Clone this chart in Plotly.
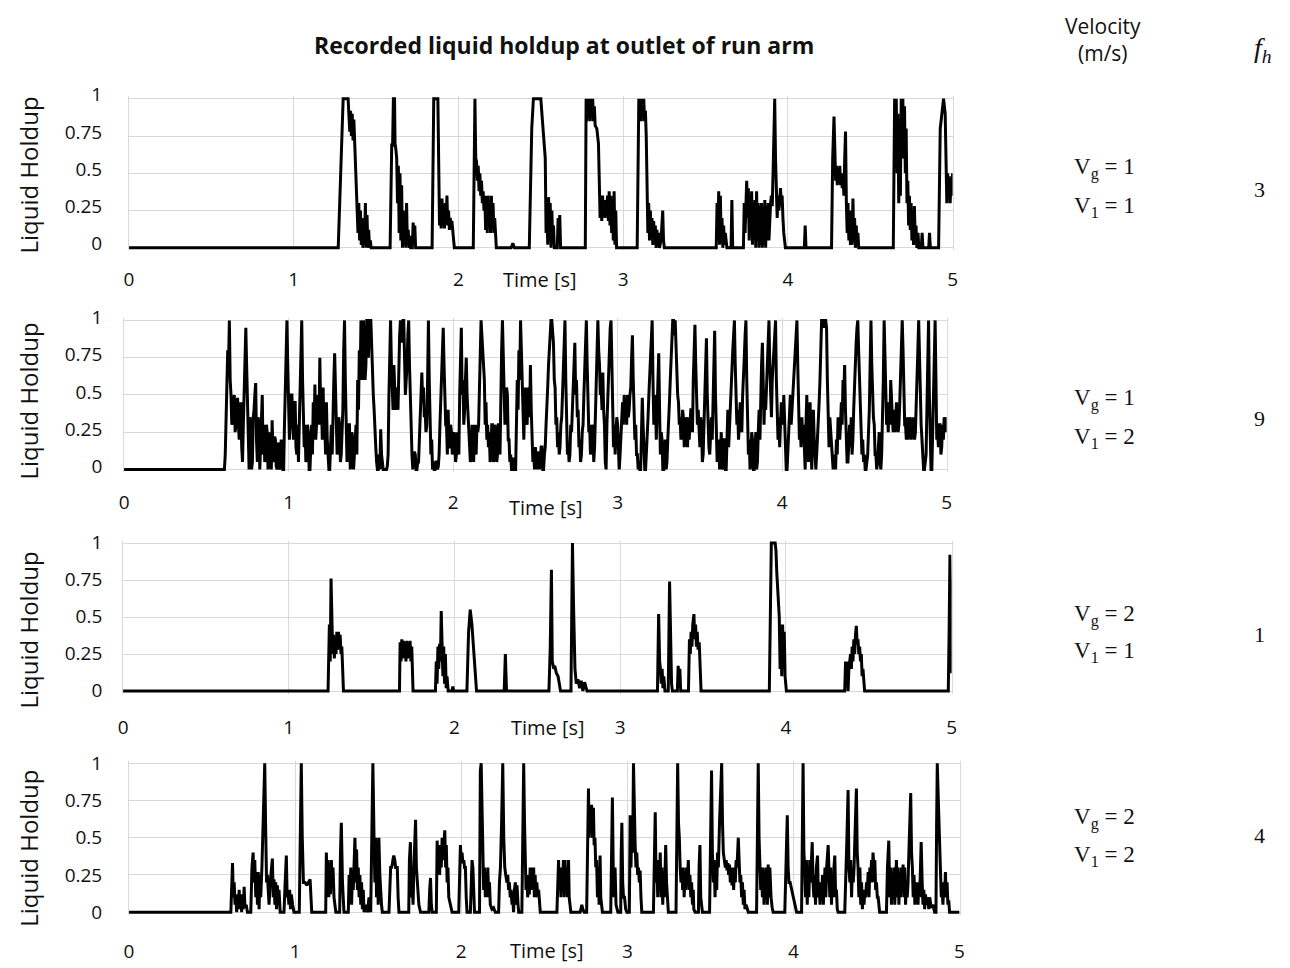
import plotly.graph_objects as go

W, H = 1290, 968

# ---------------- data ----------------
# Panel A: Vg = 1, Vl = 1
time_a = [0.0, 1.27, 1.285, 1.30, 1.33, 1.335, 1.34, 1.345, 1.35, 1.355, 1.36, 1.365, 1.37, 1.38, 1.385,
          1.39, 1.395, 1.40, 1.405, 1.41, 1.415, 1.42, 1.425, 1.43, 1.435, 1.44, 1.445, 1.45, 1.455, 1.46,
          1.465, 1.47,
          1.585, 1.595, 1.60, 1.605, 1.612, 1.615, 1.62, 1.625, 1.63, 1.635, 1.64, 1.645, 1.65, 1.655, 1.66,
          1.665, 1.67, 1.675, 1.68, 1.685, 1.69, 1.695, 1.70, 1.705, 1.71, 1.72, 1.725, 1.73, 1.735, 1.74,
          1.84, 1.845, 1.85, 1.875, 1.88, 1.885, 1.89, 1.895, 1.90, 1.905, 1.91, 1.915, 1.92, 1.925, 1.93,
          1.935, 1.94, 1.945, 1.95, 1.955, 1.96, 1.965, 1.975,
          2.09, 2.095, 2.10, 2.105, 2.11, 2.115, 2.12, 2.125, 2.13, 2.135, 2.14, 2.145, 2.15, 2.155, 2.16,
          2.165, 2.17, 2.175, 2.18, 2.185, 2.19, 2.195, 2.20, 2.205, 2.21, 2.215, 2.22, 2.23,
          2.32, 2.33, 2.34, 2.43,
          2.445, 2.455, 2.50, 2.51, 2.52, 2.527, 2.532, 2.537, 2.542, 2.547, 2.552, 2.557, 2.562, 2.567,
          2.572, 2.577, 2.582, 2.60, 2.605, 2.61, 2.615, 2.62,
          2.77, 2.775, 2.78, 2.785, 2.79, 2.795, 2.80, 2.805, 2.81, 2.815, 2.82, 2.825, 2.83, 2.84, 2.85,
          2.855, 2.86, 2.865, 2.87, 2.875, 2.88, 2.885, 2.89, 2.895, 2.90, 2.905, 2.91, 2.915, 2.92, 2.925,
          2.93, 2.935, 2.94, 2.945, 2.95, 2.955, 2.96,
          3.085, 3.09, 3.095, 3.10, 3.105, 3.11, 3.115, 3.12, 3.125, 3.13, 3.135, 3.14, 3.145, 3.15, 3.155,
          3.16, 3.165, 3.17, 3.175, 3.18, 3.185, 3.19, 3.195, 3.20, 3.205, 3.21, 3.215, 3.22, 3.23, 3.24,
          3.245, 3.25,
          3.565, 3.57, 3.575, 3.58, 3.585, 3.59, 3.595, 3.60, 3.605, 3.61, 3.615, 3.62, 3.63, 3.655, 3.66,
          3.665, 3.73,
          3.735, 3.74, 3.745, 3.75, 3.755, 3.76, 3.765, 3.77, 3.775, 3.78, 3.785, 3.79, 3.795, 3.80, 3.805,
          3.81, 3.815, 3.82, 3.825, 3.83, 3.835, 3.84, 3.845, 3.85, 3.855, 3.86, 3.865, 3.87, 3.875, 3.88,
          3.885, 3.89, 3.895, 3.90, 3.905, 3.91, 3.915, 3.92, 3.925, 3.93, 3.935, 3.94, 3.945, 3.95, 3.955,
          3.96, 3.965, 3.97, 3.975, 3.985,
          4.10, 4.105, 4.11, 4.265,
          4.272, 4.28, 4.285, 4.29, 4.295, 4.30, 4.305, 4.31, 4.315, 4.32, 4.325, 4.33, 4.335, 4.34, 4.345,
          4.35, 4.355, 4.36, 4.365, 4.37, 4.375, 4.38, 4.385, 4.39, 4.395, 4.40, 4.405, 4.41, 4.415, 4.42,
          4.425, 4.43,
          4.64, 4.643, 4.648, 4.653, 4.658, 4.663, 4.668, 4.673, 4.678, 4.683, 4.688, 4.693, 4.698, 4.703,
          4.708, 4.713, 4.718, 4.723, 4.728, 4.733, 4.738, 4.743, 4.748, 4.753, 4.758, 4.763, 4.768, 4.773,
          4.778, 4.783, 4.79, 4.795, 4.81, 4.815, 4.82, 4.855, 4.86, 4.865, 4.87,
          4.915, 4.925, 4.935, 4.945, 4.955, 4.96, 4.965, 4.97, 4.975, 4.98, 4.985, 4.99, 4.995, 5.0]
holdup_a = [0, 0, 0.5, 1.0, 1.0, 0.9, 0.78, 0.92, 0.75, 0.9, 0.72, 0.86, 0.7, 0.5, 0.32,
            0.1, 0.3, 0.05, 0.25, 0.02, 0.2, 0.0, 0.15, 0.02, 0.3, 0.0, 0.22, 0.0, 0.12, 0.0,
            0.05, 0,
            0, 0.7, 0.68, 1.0, 1.0, 0.7, 0.66, 0.6, 0.3, 0.55, 0.1, 0.5, 0.05, 0.42, 0.0,
            0.25, 0.02, 0.2, 0.0, 0.3, 0.02, 0.12, 0.0, 0.08, 0.0, 0.0, 0.17, 0.05, 0.15, 0.0,
            0, 0.7, 1.0, 1.0, 0.35, 0.15, 0.3, 0.13, 0.33, 0.15, 0.28, 0.13, 0.3, 0.18, 0.35,
            0.15, 0.25, 0.12, 0.2, 0.15, 0.18, 0.1, 0.0,
            0, 0.5, 1.0, 0.6, 0.58, 0.45, 0.55, 0.38, 0.5, 0.35, 0.45, 0.3, 0.38, 0.25, 0.35,
            0.12, 0.35, 0.1, 0.35, 0.15, 0.32, 0.1, 0.35, 0.12, 0.3, 0.1, 0.2, 0.0,
            0, 0.03, 0, 0,
            0.8, 1.0, 1.0, 0.85, 0.7, 0.6, 0.1, 0.3, 0.02, 0.34, 0.05, 0.3, 0.0, 0.25,
            0.05, 0.15, 0.0, 0.0, 0.2, 0.05, 0.22, 0.0,
            0, 1.0, 0.85, 1.0, 0.88, 1.0, 0.85, 1.0, 0.9, 1.0, 0.85, 0.95, 0.82, 0.8, 0.7,
            0.3, 0.2, 0.33, 0.18, 0.35, 0.22, 0.3, 0.2, 0.32, 0.22, 0.35, 0.18, 0.38, 0.15, 0.35,
            0.1, 0.3, 0.05, 0.38, 0.02, 0.25, 0.0,
            0, 0.9, 1.0, 0.88, 1.0, 0.85, 1.0, 0.9, 1.0, 0.85, 0.92, 0.75, 0.35, 0.1, 0.3,
            0.05, 0.25, 0.08, 0.2, 0.02, 0.18, 0.05, 0.15, 0.0, 0.12, 0.02, 0.1, 0.0, 0.05, 0.25,
            0.05, 0.0,
            0, 0.3, 0.05, 0.38, 0.02, 0.35, 0.05, 0.2, 0.0, 0.15, 0.02, 0.1, 0.0, 0.0, 0.32,
            0.0, 0.0,
            0.3, 0.1, 0.4, 0.45, 0.2, 0.4, 0.05, 0.35, 0.1, 0.38, 0.02, 0.3, 0.05, 0.32, 0.0,
            0.38, 0.05, 0.3, 0.0, 0.28, 0.02, 0.3, 0.0, 0.28, 0.02, 0.32, 0.0, 0.28, 0.05, 0.3,
            0.05, 0.2, 0.3, 0.35, 0.28, 0.5, 0.85, 1.0, 0.6, 0.3, 0.2, 0.35, 0.25, 0.3, 0.4,
            0.3, 0.35, 0.2, 0.1, 0.0,
            0, 0.15, 0.0, 0,
            0.6, 0.88, 0.55, 0.45, 0.55, 0.42, 0.52, 0.45, 0.55, 0.42, 0.5, 0.4, 0.48, 0.35, 0.6,
            0.78, 0.3, 0.1, 0.3, 0.05, 0.25, 0.02, 0.15, 0.02, 0.33, 0.05, 0.2, 0.0, 0.15, 0.02,
            0.1, 0.0,
            0, 0.8, 1.0, 0.6, 1.0, 0.5, 0.9, 0.3, 0.6, 0.35, 1.0, 0.7, 1.0, 0.6,
            0.95, 0.5, 0.8, 0.3, 0.45, 0.15, 0.35, 0.12, 0.3, 0.05, 0.2, 0.02, 0.28, 0.05,
            0.15, 0.0, 0.1, 0.0, 0.0, 0.1, 0.0, 0.0, 0.1, 0.0, 0.0,
            0, 0.8, 0.9, 1.0, 0.9, 0.45, 0.3, 0.5, 0.35, 0.48, 0.3, 0.45, 0.35, 0.5]

# Panel B: Vg = 1, Vl = 2  (one reading every 5 ms once the first slug arrives)
time_b = [0.0,
          0.600, 0.605, 0.610, 0.615, 0.620, 0.625, 0.630, 0.635, 0.640, 0.645,
          0.650, 0.655, 0.660, 0.665, 0.670, 0.675, 0.680, 0.685, 0.690, 0.695,
          0.700, 0.705, 0.710, 0.715, 0.720, 0.725, 0.730, 0.735, 0.740, 0.745,
          0.750, 0.755, 0.760, 0.765, 0.770, 0.775, 0.780, 0.785, 0.790, 0.795,
          0.800, 0.805, 0.810, 0.815, 0.820, 0.825, 0.830, 0.835, 0.840, 0.845,
          0.850, 0.855, 0.860, 0.865, 0.870, 0.875, 0.880, 0.885, 0.890, 0.895,
          0.900, 0.905, 0.910, 0.915, 0.920, 0.925, 0.930, 0.935, 0.940, 0.945,
          0.950, 0.955, 0.960, 0.965, 0.970, 0.975, 0.980, 0.985, 0.990, 0.995,
          1.000, 1.005, 1.010, 1.015, 1.020, 1.025, 1.030, 1.035, 1.040, 1.045,
          1.050, 1.055, 1.060, 1.065, 1.070, 1.075, 1.080, 1.085, 1.090, 1.095,
          1.100, 1.105, 1.110, 1.115, 1.120, 1.125, 1.130, 1.135, 1.140, 1.145,
          1.150, 1.155, 1.160, 1.165, 1.170, 1.175, 1.180, 1.185, 1.190, 1.195,
          1.200, 1.205, 1.210, 1.215, 1.220, 1.225, 1.230, 1.235, 1.240, 1.245,
          1.250, 1.255, 1.260, 1.265, 1.270, 1.275, 1.280, 1.285, 1.290, 1.295,
          1.300, 1.305, 1.310, 1.315, 1.320, 1.325, 1.330, 1.335, 1.340, 1.345,
          1.350, 1.355, 1.360, 1.365, 1.370, 1.375, 1.380, 1.385, 1.390, 1.395,
          1.400, 1.405, 1.410, 1.415, 1.420, 1.425, 1.430, 1.435, 1.440, 1.445,
          1.450, 1.455, 1.460, 1.465, 1.470, 1.475, 1.480, 1.485, 1.490, 1.495,
          1.500, 1.505, 1.510, 1.515, 1.520, 1.525, 1.530, 1.535, 1.540, 1.545,
          1.550, 1.555, 1.560, 1.565, 1.570, 1.575, 1.580, 1.585, 1.590, 1.595,
          1.600, 1.605, 1.610, 1.615, 1.620, 1.625, 1.630, 1.635, 1.640, 1.645,
          1.650, 1.655, 1.660, 1.665, 1.670, 1.675, 1.680, 1.685, 1.690, 1.695,
          1.700, 1.705, 1.710, 1.715, 1.720, 1.725, 1.730, 1.735, 1.740, 1.745,
          1.750, 1.755, 1.760, 1.765, 1.770, 1.775, 1.780, 1.785, 1.790, 1.795,
          1.800, 1.805, 1.810, 1.815, 1.820, 1.825, 1.830, 1.835, 1.840, 1.845,
          1.850, 1.855, 1.860, 1.865, 1.870, 1.875, 1.880, 1.885, 1.890, 1.895,
          1.900, 1.905, 1.910, 1.915, 1.920, 1.925, 1.930, 1.935, 1.940, 1.945,
          1.950, 1.955, 1.960, 1.965, 1.970, 1.975, 1.980, 1.985, 1.990, 1.995,
          2.000, 2.005, 2.010, 2.015, 2.020, 2.025, 2.030, 2.035, 2.040, 2.045,
          2.050, 2.055, 2.060, 2.065, 2.070, 2.075, 2.080, 2.085, 2.090, 2.095,
          2.100, 2.105, 2.110, 2.115, 2.120, 2.125, 2.130, 2.135, 2.140, 2.145,
          2.150, 2.155, 2.160, 2.165, 2.170, 2.175, 2.180, 2.185, 2.190, 2.195,
          2.200, 2.205, 2.210, 2.215, 2.220, 2.225, 2.230, 2.235, 2.240, 2.245,
          2.250, 2.255, 2.260, 2.265, 2.270, 2.275, 2.280, 2.285, 2.290, 2.295,
          2.300, 2.305, 2.310, 2.315, 2.320, 2.325, 2.330, 2.335, 2.340, 2.345,
          2.350, 2.355, 2.360, 2.365, 2.370, 2.375, 2.380, 2.385, 2.390, 2.395,
          2.400, 2.405, 2.410, 2.415, 2.420, 2.425, 2.430, 2.435, 2.440, 2.445,
          2.450, 2.455, 2.460, 2.465, 2.470, 2.475, 2.480, 2.485, 2.490, 2.495,
          2.500, 2.505, 2.510, 2.515, 2.520, 2.525, 2.530, 2.535, 2.540, 2.545,
          2.550, 2.555, 2.560, 2.565, 2.570, 2.575, 2.580, 2.585, 2.590, 2.595,
          2.600, 2.605, 2.610, 2.615, 2.620, 2.625, 2.630, 2.635, 2.640, 2.645,
          2.650, 2.655, 2.660, 2.665, 2.670, 2.675, 2.680, 2.685, 2.690, 2.695,
          2.700, 2.705, 2.710, 2.715, 2.720, 2.725, 2.730, 2.735, 2.740, 2.745,
          2.750, 2.755, 2.760, 2.765, 2.770, 2.775, 2.780, 2.785, 2.790, 2.795,
          2.800, 2.805, 2.810, 2.815, 2.820, 2.825, 2.830, 2.835, 2.840, 2.845,
          2.850, 2.855, 2.860, 2.865, 2.870, 2.875, 2.880, 2.885, 2.890, 2.895,
          2.900, 2.905, 2.910, 2.915, 2.920, 2.925, 2.930, 2.935, 2.940, 2.945,
          2.950, 2.955, 2.960, 2.965, 2.970, 2.975, 2.980, 2.985, 2.990, 2.995,
          3.000, 3.005, 3.010, 3.015, 3.020, 3.025, 3.030, 3.035, 3.040, 3.045,
          3.050, 3.055, 3.060, 3.065, 3.070, 3.075, 3.080, 3.085, 3.090, 3.095,
          3.100, 3.105, 3.110, 3.115, 3.120, 3.125, 3.130, 3.135, 3.140, 3.145,
          3.150, 3.155, 3.160, 3.165, 3.170, 3.175, 3.180, 3.185, 3.190, 3.195,
          3.200, 3.205, 3.210, 3.215, 3.220, 3.225, 3.230, 3.235, 3.240, 3.245,
          3.250, 3.255, 3.260, 3.265, 3.270, 3.275, 3.280, 3.285, 3.290, 3.295,
          3.300, 3.305, 3.310, 3.315, 3.320, 3.325, 3.330, 3.335, 3.340, 3.345,
          3.350, 3.355, 3.360, 3.365, 3.370, 3.375, 3.380, 3.385, 3.390, 3.395,
          3.400, 3.405, 3.410, 3.415, 3.420, 3.425, 3.430, 3.435, 3.440, 3.445,
          3.450, 3.455, 3.460, 3.465, 3.470, 3.475, 3.480, 3.485, 3.490, 3.495,
          3.500, 3.505, 3.510, 3.515, 3.520, 3.525, 3.530, 3.535, 3.540, 3.545,
          3.550, 3.555, 3.560, 3.565, 3.570, 3.575, 3.580, 3.585, 3.590, 3.595,
          3.600, 3.605, 3.610, 3.615, 3.620, 3.625, 3.630, 3.635, 3.640, 3.645,
          3.650, 3.655, 3.660, 3.665, 3.670, 3.675, 3.680, 3.685, 3.690, 3.695,
          3.700, 3.705, 3.710, 3.715, 3.720, 3.725, 3.730, 3.735, 3.740, 3.745,
          3.750, 3.755, 3.760, 3.765, 3.770, 3.775, 3.780, 3.785, 3.790, 3.795,
          3.800, 3.805, 3.810, 3.815, 3.820, 3.825, 3.830, 3.835, 3.840, 3.845,
          3.850, 3.855, 3.860, 3.865, 3.870, 3.875, 3.880, 3.885, 3.890, 3.895,
          3.900, 3.905, 3.910, 3.915, 3.920, 3.925, 3.930, 3.935, 3.940, 3.945,
          3.950, 3.955, 3.960, 3.965, 3.970, 3.975, 3.980, 3.985, 3.990, 3.995,
          4.000, 4.005, 4.010, 4.015, 4.020, 4.025, 4.030, 4.035, 4.040, 4.045,
          4.050, 4.055, 4.060, 4.065, 4.070, 4.075, 4.080, 4.085, 4.090, 4.095,
          4.100, 4.105, 4.110, 4.115, 4.120, 4.125, 4.130, 4.135, 4.140, 4.145,
          4.150, 4.155, 4.160, 4.165, 4.170, 4.175, 4.180, 4.185, 4.190, 4.195,
          4.200, 4.205, 4.210, 4.215, 4.220, 4.225, 4.230, 4.235, 4.240, 4.245,
          4.250, 4.255, 4.260, 4.265, 4.270, 4.275, 4.280, 4.285, 4.290, 4.295,
          4.300, 4.305, 4.310, 4.315, 4.320, 4.325, 4.330, 4.335, 4.340, 4.345,
          4.350, 4.355, 4.360, 4.365, 4.370, 4.375, 4.380, 4.385, 4.390, 4.395,
          4.400, 4.405, 4.410, 4.415, 4.420, 4.425, 4.430, 4.435, 4.440, 4.445,
          4.450, 4.455, 4.460, 4.465, 4.470, 4.475, 4.480, 4.485, 4.490, 4.495,
          4.500, 4.505, 4.510, 4.515, 4.520, 4.525, 4.530, 4.535, 4.540, 4.545,
          4.550, 4.555, 4.560, 4.565, 4.570, 4.575, 4.580, 4.585, 4.590, 4.595,
          4.600, 4.605, 4.610, 4.615, 4.620, 4.625, 4.630, 4.635, 4.640, 4.645,
          4.650, 4.655, 4.660, 4.665, 4.670, 4.675, 4.680, 4.685, 4.690, 4.695,
          4.700, 4.705, 4.710, 4.715, 4.720, 4.725, 4.730, 4.735, 4.740, 4.745,
          4.750, 4.755, 4.760, 4.765, 4.770, 4.775, 4.780, 4.785, 4.790, 4.795,
          4.800, 4.805, 4.810, 4.815, 4.820, 4.825, 4.830, 4.835, 4.840, 4.845,
          4.850, 4.855, 4.860, 4.865, 4.870, 4.875, 4.880, 4.885, 4.890, 4.895,
          4.900, 4.905, 4.910, 4.915, 4.920, 4.925, 4.930, 4.935, 4.940, 4.945,
          4.950, 4.955, 4.960, 4.965, 4.970, 4.975, 4.980, 4.985, 4.990, 4.995,
          5.000]
holdup_b = [0.0,
            0, 0, 0, 0.1, 0.3, 0.55, 0.8, 0.7, 1.0, 0.6,
            0.5, 0.3, 0.35, 0.45, 0.5, 0.25, 0.3, 0.45, 0.48, 0.3,
            0.2, 0.4, 0.45, 0.15, 0.05, 0.3, 0.6, 0.75, 0.95, 0.7,
            0.4, 0.1, 0.0, 0.35, 0.3, 0.0, 0.05, 0.35, 0.4, 0.5,
            0.58, 0.2, 0.05, 0.35, 0.3, 0.0, 0.15, 0.4, 0.5, 0.1,
            0.3, 0.05, 0.1, 0.3, 0.25, 0.0, 0.05, 0.25, 0.2, 0.0,
            0.33, 0.1, 0.05, 0.22, 0.2, 0.02, 0.0, 0.15, 0.18, 0.0,
            0.02, 0.2, 0.15, 0.0, 0.0, 0.3, 0.6, 0.85, 1.0, 0.7,
            0.45, 0.2, 0.3, 0.5, 0.5, 0.25, 0.2, 0.45, 0.45, 0.15,
            0.1, 0.3, 0.05, 0.3, 0.6, 0.85, 1.0, 0.6, 0.4, 0.15,
            0.3, 0.05, 0.1, 0.3, 0.25, 0.0, 0.0, 0.25, 0.3, 0.1,
            0.45, 0.25, 0.57, 0.2, 0.3, 0.45, 0.5, 0.3, 0.75, 0.4,
            0.45, 0.2, 0.55, 0.25, 0.3, 0.1, 0.45, 0.2, 0.1, 0.0,
            0.0, 0.2, 0.3, 0.1, 0.5, 0.6, 0.78, 0.5, 0.35, 0.1,
            0.15, 0.35, 0.3, 0.05, 0.1, 0.3, 0.4, 0.8, 1.0, 0.6,
            0.3, 0.05, 0.15, 0.3, 0.3, 0.0, 0.05, 0.25, 0.2, 0.0,
            0.1, 0.25, 0.3, 0.1, 0.6, 0.4, 0.8, 0.6, 1.0, 0.8,
            0.6, 1.0, 0.85, 0.6, 0.7, 1.0, 1.0, 0.75, 0.95, 1.0,
            1.0, 0.8, 0.7, 0.5, 0.4, 0.2, 0.15, 0.05, 0.0, 0.0,
            0.1, 0.0, 0.27, 0.1, 0.05, 0.0, 0.0, 0.0, 0.0, 0.0,
            0.02, 0.1, 0.5, 0.8, 1.0, 0.7, 0.5, 0.4, 0.7, 0.45,
            0.4, 0.55, 0.5, 0.4, 0.8, 0.9, 1.0, 0.85, 0.95, 1.0,
            1.0, 0.7, 0.5, 0.6, 0.7, 0.9, 1.0, 0.7, 0.5, 0.2,
            0.1, 0.0, 0.05, 0.12, 0.1, 0.0, 0.0, 0.05, 0.05, 0.2,
            0.4, 0.5, 0.65, 0.45, 0.55, 0.35, 0.4, 0.25, 0.3, 0.6,
            1.0, 0.6, 0.4, 0.1, 0.2, 0.0, 0.05, 0.0, 0.0, 0.05,
            0.05, 0.0, 0.02, 0.1, 0.3, 0.45, 0.6, 0.8, 0.95, 0.7,
            0.55, 0.3, 0.3, 0.1, 0.4, 0.15, 0.15, 0.3, 0.25, 0.1,
            0.15, 0.25, 0.2, 0.05, 0.1, 0.25, 0.2, 0.1, 0.5, 0.7,
            0.95, 0.5, 0.6, 0.3, 0.4, 0.6, 0.75, 0.5, 0.4, 0.25,
            0.2, 0.05, 0.1, 0.3, 0.2, 0.05, 0.3, 0.2, 0.1, 0.3,
            0.25, 0.3, 0.5, 0.8, 1.0, 0.9, 0.8, 0.7, 0.6, 0.3,
            0.45, 0.2, 0.3, 0.15, 0.25, 0.05, 0.1, 0.3, 0.3, 0.05,
            0.1, 0.3, 0.25, 0.05, 0.1, 0.3, 0.3, 0.1, 0.6, 0.8,
            1.0, 0.7, 0.6, 0.3, 0.45, 0.55, 0.5, 0.2, 0.2, 0.05,
            0.1, 0.0, 0.0, 0.08, 0.05, 0.0, 0.0, 0.3, 0.6, 0.4,
            0.8, 0.6, 1.0, 0.8, 0.6, 0.3, 0.2, 0.45, 0.55, 0.35,
            0.3, 0.5, 0.55, 0.35, 0.7, 0.4, 0.25, 0.05, 0.1, 0.0,
            0.15, 0.02, 0.0, 0.12, 0.1, 0.0, 0.05, 0.15, 0.15, 0.0,
            0.0, 0.1, 0.15, 0.3, 0.4, 0.55, 0.7, 0.8, 0.9, 1.0,
            1.0, 0.9, 0.85, 0.6, 0.55, 0.3, 0.35, 0.15, 0.25, 0.1,
            0.15, 0.3, 0.35, 0.5, 0.7, 0.9, 1.0, 0.6, 0.3, 0.1,
            0.15, 0.05, 0.1, 0.3, 0.25, 0.4, 0.55, 0.7, 0.85, 0.5,
            0.6, 0.35, 0.4, 0.15, 0.2, 0.05, 0.1, 0.25, 0.3, 0.5,
            0.7, 0.9, 1.0, 0.7, 0.5, 0.25, 0.3, 0.1, 0.15, 0.3,
            0.25, 0.05, 0.15, 0.35, 0.5, 0.8, 1.0, 0.8, 0.7, 0.5,
            0.55, 0.4, 0.65, 0.4, 0.3, 0.05, 0.0, 0.3, 0.5, 0.7,
            0.8, 0.95, 1.0, 0.6, 0.3, 0.15, 0.3, 0.1, 0.25, 0.35,
            0.3, 0.1, 0.0, 0.1, 0.2, 0.35, 0.45, 0.3, 0.5, 0.35,
            0.45, 0.3, 0.5, 0.35, 0.4, 0.5, 0.55, 0.75, 0.9, 0.6,
            0.4, 0.2, 0.3, 0.1, 0.1, 0.0, 0.05, 0.0, 0.0, 0.25,
            0.48, 0.3, 0.1, 0.0, 0.0, 0.1, 0.2, 0.35, 0.5, 0.65,
            0.8, 0.95, 1.0, 0.6, 0.3, 0.4, 0.5, 0.2, 0.35, 0.55,
            0.78, 0.4, 0.1, 0.25, 0.2, 0.0, 0.0, 0.15, 0.2, 0.0,
            0.05, 0.2, 0.3, 0.45, 0.6, 0.75, 0.9, 1.0, 1.0, 0.9,
            1.0, 0.8, 0.6, 0.5, 0.45, 0.3, 0.35, 0.2, 0.25, 0.4,
            0.35, 0.15, 0.2, 0.35, 0.3, 0.15, 0.35, 0.2, 0.3, 0.4,
            0.4, 0.25, 0.6, 0.8, 0.97, 0.7, 0.5, 0.3, 0.4, 0.2,
            0.15, 0.35, 0.3, 0.05, 0.1, 0.3, 0.5, 0.7, 0.88, 0.5,
            0.3, 0.15, 0.1, 0.3, 0.35, 0.2, 0.5, 0.75, 0.93, 0.5,
            0.25, 0.05, 0.1, 0.2, 0.0, 0.15, 0.25, 0.0, 0.02, 0.2,
            0.2, 0.0, 0.0, 0.2, 0.4, 0.15, 0.3, 0.45, 0.5, 0.65,
            0.8, 0.9, 1.0, 0.7, 0.55, 0.3, 0.4, 0.2, 0.3, 0.45,
            0.4, 0.25, 0.5, 0.6, 0.75, 0.9, 1.0, 0.6, 0.3, 0.1,
            0.2, 0.0, 0.05, 0.25, 0.2, 0.0, 0.0, 0.2, 0.25, 0.0,
            0.05, 0.25, 0.4, 0.2, 0.6, 0.7, 0.85, 0.5, 0.3, 0.5,
            0.4, 0.55, 0.7, 0.9, 1.0, 0.7, 0.5, 0.35, 0.6, 0.7,
            0.8, 0.95, 1.0, 0.6, 0.4, 0.2, 0.35, 0.15, 0.3, 0.45,
            0.4, 0.3, 0.5, 0.3, 0.2, 0.0, 0.0, 0.15, 0.3, 0.45,
            0.5, 0.3, 0.4, 0.5, 0.6, 0.7, 0.8, 0.9, 1.0, 0.7,
            0.35, 0.2, 0.3, 0.15, 0.35, 0.2, 0.3, 0.1, 0.0, 0.3,
            0.5, 0.25, 0.05, 0.3, 0.45, 0.2, 0.0, 0.2, 0.4, 0.2,
            0.05, 0.0, 0.1, 0.2, 0.3, 0.45, 0.6, 0.8, 1.0, 1.0,
            1.0, 0.95, 1.0, 1.0, 0.95, 0.6, 0.3, 0.15, 0.35, 0.25,
            0.2, 0.05, 0.0, 0.1, 0.05, 0.0, 0.2, 0.1, 0.35, 0.25,
            0.2, 0.3, 0.45, 0.3, 0.6, 0.5, 0.7, 0.4, 0.2, 0.05,
            0.05, 0.2, 0.3, 0.15, 0.35, 0.1, 0.2, 0.4, 0.6, 0.75,
            0.85, 0.95, 1.0, 0.8, 0.6, 0.4, 0.3, 0.1, 0.2, 0.05,
            0.1, 0.0, 0.0, 0.05, 0.1, 0.25, 0.4, 0.7, 1.0, 0.7,
            0.5, 0.35, 0.3, 0.1, 0.1, 0.0, 0.05, 0.2, 0.25, 0.05,
            0.0, 0.1, 0.3, 0.6, 1.0, 0.7, 0.5, 0.3, 0.4, 0.25,
            0.45, 0.3, 0.6, 0.4, 0.35, 0.25, 0.4, 0.25, 0.3, 0.45,
            0.4, 0.25, 0.3, 0.45, 0.6, 0.8, 1.0, 0.8, 0.55, 0.3,
            0.3, 0.2, 0.35, 0.2, 0.25, 0.35, 0.3, 0.2, 0.25, 0.35,
            0.3, 0.2, 0.25, 0.4, 0.6, 0.8, 1.0, 0.7, 0.4, 0.3,
            0.2, 0.05, 0.0, 0.0, 0.05, 0.1, 0.4, 0.7, 1.0, 0.5,
            0.1, 0.0, 0.0, 0.3, 0.6, 0.8, 1.0, 0.6, 0.2, 0.25,
            0.15, 0.3, 0.3, 0.1, 0.15, 0.3, 0.2, 0.35, 0.3, 0.25,
            0.35]

# Panel C: Vg = 2, Vl = 1
time_c = [0.0, 1.237, 1.245, 1.25, 1.255, 1.26, 1.265, 1.27, 1.275, 1.28, 1.285, 1.29, 1.295, 1.30,
          1.305, 1.31, 1.315, 1.32, 1.33,
          1.668, 1.672, 1.677, 1.682, 1.687, 1.692, 1.697, 1.702, 1.707, 1.712, 1.717, 1.722, 1.727,
          1.732, 1.737, 1.742, 1.75,
          1.885, 1.89, 1.895, 1.90, 1.905, 1.91, 1.915, 1.92, 1.925, 1.93, 1.935, 1.94, 1.945, 1.95,
          1.955, 1.962, 1.985, 1.99, 1.995,
          2.075, 2.085, 2.095, 2.105, 2.115, 2.125, 2.133,
          2.30, 2.307, 2.314,
          2.57, 2.578, 2.585, 2.59, 2.595, 2.60, 2.605, 2.61, 2.615, 2.625, 2.64,
          2.703, 2.708, 2.712, 2.718, 2.722, 2.727, 2.735, 2.745, 2.755, 2.765, 2.775, 2.785, 2.795, 2.80,
          3.225, 3.232, 3.238, 3.243, 3.248, 3.253, 3.258, 3.263, 3.27, 3.29, 3.298, 3.305, 3.31,
          3.315, 3.325, 3.345, 3.35, 3.355, 3.36, 3.365,
          3.412, 3.418, 3.423, 3.428, 3.433, 3.438, 3.445, 3.45, 3.455, 3.46, 3.465, 3.47, 3.477,
          3.482, 3.488,
          3.90, 3.905, 3.912, 3.935, 3.94, 3.945, 3.95, 3.955, 3.96, 3.965, 3.97, 3.975, 3.98, 3.985,
          3.99, 3.995, 4.003,
          4.355, 4.36, 4.365, 4.37, 4.375, 4.38, 4.39, 4.395, 4.40, 4.405, 4.41, 4.415, 4.42, 4.425,
          4.43, 4.435, 4.44, 4.445, 4.45, 4.455, 4.46, 4.465, 4.475,
          4.98, 4.985, 4.99, 4.995, 5.0]
holdup_c = [0, 0, 0.45, 0.2, 0.76, 0.45, 0.25, 0.38, 0.22, 0.36, 0.25, 0.4, 0.28, 0.4,
            0.3, 0.38, 0.25, 0.3, 0.0,
            0, 0.33, 0.2, 0.35, 0.22, 0.34, 0.25, 0.33, 0.2, 0.34, 0.22, 0.33, 0.25,
            0.34, 0.2, 0.3, 0.0,
            0, 0.2, 0.05, 0.3, 0.15, 0.32, 0.2, 0.54, 0.3, 0.1, 0.3, 0.05, 0.25, 0.02,
            0.1, 0.0, 0, 0.03, 0.0,
            0, 0.4, 0.55, 0.45, 0.3, 0.1, 0.0,
            0, 0.25, 0.0,
            0, 0.3, 0.82, 0.2, 0.18, 0.15, 0.17, 0.15, 0.12, 0.1, 0.0,
            0, 0.5, 1.0, 0.6, 0.4, 0.15, 0.05, 0.08, 0.02, 0.07, 0.0, 0.06, 0.02, 0.0,
            0, 0.52, 0.2, 0.15, 0.05, 0.15, 0.02, 0.1, 0.0, 0.0, 0.74, 0.3, 0.05,
            0.0, 0.0, 0.0, 0.17, 0.03, 0.15, 0.0,
            0, 0.35, 0.25, 0.4, 0.3, 0.45, 0.52, 0.35, 0.45, 0.3, 0.4, 0.28, 0.33,
            0.1, 0.0,
            0, 0.6, 1.0, 1.0, 0.95, 0.8, 0.7, 0.6, 0.5, 0.15, 0.45, 0.1, 0.45, 0.2,
            0.4, 0.1, 0.0,
            0, 0.2, 0.05, 0.2, 0.0, 0.15, 0.25, 0.15, 0.3, 0.2, 0.35, 0.25, 0.38, 0.44,
            0.32, 0.35, 0.25, 0.3, 0.2, 0.25, 0.1, 0.15, 0.0,
            0, 0.4, 0.92, 0.6, 0.12]

# Panel D: Vg = 2, Vl = 2
time_d = [0.0, 0.613, 0.623, 0.628, 0.633, 0.638, 0.643, 0.648, 0.653, 0.658, 0.663, 0.668, 0.673,
          0.678, 0.683, 0.688, 0.693, 0.698, 0.705, 0.713, 0.733, 0.74, 0.747, 0.752, 0.757, 0.763,
          0.768, 0.773, 0.778, 0.783, 0.788, 0.793, 0.80, 0.808, 0.817, 0.822, 0.828, 0.833, 0.838,
          0.843, 0.85, 0.857, 0.863, 0.868, 0.873, 0.878, 0.883, 0.888, 0.893, 0.898, 0.903, 0.91,
          0.933, 0.94, 0.947, 0.952, 0.957, 0.962, 0.967, 0.972, 0.977, 0.985, 0.993,
          1.025, 1.03, 1.037, 1.043, 1.05, 1.06, 1.07, 1.08, 1.09, 1.10,
          1.184, 1.188, 1.193, 1.198, 1.203, 1.208, 1.213, 1.218, 1.223, 1.228, 1.234, 1.245,
          1.268, 1.273, 1.278, 1.285, 1.294,
          1.32, 1.325, 1.33, 1.335, 1.34, 1.345, 1.35, 1.355, 1.36, 1.365, 1.37, 1.375, 1.38, 1.385,
          1.39, 1.395, 1.40, 1.405, 1.41, 1.415, 1.425, 1.435, 1.445, 1.455, 1.46, 1.468, 1.475, 1.48,
          1.485, 1.49, 1.495, 1.50, 1.504, 1.51, 1.52, 1.525,
          1.565, 1.57, 1.575, 1.58, 1.585, 1.59, 1.594, 1.60, 1.605, 1.61, 1.615, 1.62, 1.625,
          1.684, 1.688, 1.694, 1.70, 1.705, 1.71, 1.715, 1.72, 1.725, 1.73, 1.735, 1.745, 1.755,
          1.805, 1.81, 1.815, 1.82, 1.825,
          1.85, 1.855, 1.86, 1.865, 1.87, 1.875, 1.88, 1.885, 1.89, 1.895, 1.901, 1.906, 1.91, 1.915,
          1.92, 1.925, 1.935, 1.945,
          1.985, 1.99, 1.995, 2.0, 2.005, 2.01, 2.015, 2.02, 2.025, 2.03, 2.035,
          2.055, 2.06, 2.065, 2.07, 2.075, 2.08,
          2.11, 2.115, 2.12, 2.125, 2.13, 2.135, 2.14, 2.145, 2.15, 2.155, 2.16, 2.165, 2.17, 2.175,
          2.185, 2.195, 2.205,
          2.225, 2.23, 2.236, 2.243, 2.25, 2.256, 2.262, 2.268, 2.275, 2.28, 2.285, 2.29, 2.295, 2.30,
          2.306, 2.31, 2.315, 2.32, 2.326, 2.33, 2.336, 2.342, 2.346,
          2.365, 2.37, 2.376, 2.381, 2.386, 2.39, 2.395, 2.40, 2.405, 2.41, 2.415, 2.42, 2.426, 2.43,
          2.436, 2.44, 2.445, 2.45, 2.455, 2.46, 2.466, 2.47, 2.476,
          2.576, 2.58, 2.586, 2.59, 2.595, 2.60, 2.605, 2.61, 2.615, 2.62, 2.625, 2.63, 2.635, 2.64,
          2.646, 2.65, 2.656, 2.66,
          2.716, 2.72, 2.726, 2.732, 2.74,
          2.755, 2.76, 2.766, 2.77, 2.775, 2.78, 2.785, 2.79, 2.796, 2.80, 2.805, 2.81, 2.815, 2.82,
          2.825, 2.83, 2.836, 2.84, 2.846, 2.85,
          2.90, 2.905, 2.91, 2.915, 2.92, 2.926, 2.932, 2.943,
          2.96, 2.963, 2.967, 2.972, 2.977, 2.983, 2.99, 2.997,
          3.012, 3.017, 3.022, 3.027, 3.032, 3.037, 3.042, 3.047, 3.052, 3.057, 3.062, 3.067, 3.072,
          3.077, 3.082, 3.087,
          3.157, 3.162, 3.168, 3.173, 3.178, 3.183, 3.188, 3.193, 3.198, 3.203, 3.208, 3.213, 3.218,
          3.223, 3.227, 3.231, 3.236, 3.241, 3.247,
          3.293, 3.298, 3.303, 3.308, 3.313, 3.318, 3.323, 3.328, 3.333, 3.337, 3.342, 3.347, 3.352,
          3.357, 3.362, 3.367, 3.372, 3.377, 3.382, 3.387, 3.392, 3.397, 3.40, 3.408,
          3.428, 3.432, 3.437, 3.442, 3.447, 3.452,
          3.495, 3.50, 3.507, 3.512, 3.518, 3.523, 3.528, 3.533, 3.538, 3.543, 3.548, 3.555, 3.562,
          3.568, 3.573, 3.578, 3.584, 3.59, 3.595, 3.60, 3.605, 3.61, 3.615, 3.62, 3.625, 3.63, 3.635,
          3.64, 3.645, 3.65, 3.655, 3.66, 3.668, 3.673, 3.678, 3.683, 3.688, 3.693, 3.698, 3.703,
          3.708, 3.715, 3.728,
          3.778, 3.783, 3.788, 3.793, 3.798, 3.803, 3.808, 3.813, 3.818, 3.823, 3.828, 3.833, 3.838,
          3.843, 3.848, 3.853, 3.858, 3.865, 3.872, 3.878,
          3.948, 3.955, 3.963, 3.968, 3.973, 3.98, 3.99, 3.999, 4.01, 4.019,
          4.049, 4.053, 4.058, 4.063, 4.068, 4.073, 4.078, 4.083, 4.088, 4.093, 4.098, 4.103, 4.108,
          4.113, 4.118, 4.123, 4.128, 4.133, 4.138, 4.145, 4.15, 4.155, 4.16, 4.165, 4.17, 4.175,
          4.18, 4.185, 4.19, 4.195, 4.20, 4.209, 4.214, 4.219, 4.224, 4.229, 4.234, 4.239, 4.244,
          4.249, 4.254, 4.259, 4.264, 4.269,
          4.309, 4.315, 4.322, 4.329, 4.334, 4.34, 4.345, 4.35, 4.355, 4.36, 4.365, 4.37, 4.379,
          4.384, 4.389, 4.394, 4.40, 4.405, 4.41, 4.415, 4.42, 4.425, 4.43, 4.435, 4.44, 4.445, 4.45,
          4.455, 4.46, 4.465, 4.47, 4.475, 4.479, 4.485, 4.49, 4.495, 4.50, 4.505, 4.51, 4.519,
          4.56, 4.566, 4.574, 4.58, 4.585, 4.59, 4.595, 4.60, 4.605, 4.61, 4.615, 4.62, 4.625, 4.63,
          4.635, 4.64, 4.645, 4.65, 4.655, 4.66, 4.665, 4.67, 4.675, 4.68, 4.685, 4.69, 4.695, 4.70,
          4.706, 4.711, 4.716, 4.721, 4.726, 4.731, 4.736, 4.74, 4.745, 4.75, 4.755, 4.76, 4.765,
          4.769, 4.775, 4.78, 4.785, 4.79, 4.795, 4.80, 4.805, 4.81, 4.815, 4.82, 4.83, 4.84, 4.85,
          4.858, 4.862, 4.866, 4.871, 4.876, 4.881, 4.886, 4.89, 4.895, 4.90, 4.905, 4.91, 4.915,
          4.92, 4.925, 4.93, 4.935, 4.94, 5.0]
holdup_d = [0, 0, 0.33, 0.1, 0.2, 0.05, 0.12, 0.0, 0.08, 0.02, 0.15, 0.03, 0.1,
            0.0, 0.12, 0.02, 0.17, 0.03, 0.05, 0.0, 0.0, 0.3, 0.4, 0.2, 0.35, 0.1,
            0.27, 0.05, 0.27, 0.02, 0.25, 0.1, 0.3, 0.6, 1.0, 0.6, 0.2, 0.25, 0.1,
            0.05, 0.2, 0.3, 0.36, 0.1, 0.22, 0.05, 0.2, 0.02, 0.18, 0.05, 0.15, 0.0,
            0.0, 0.2, 0.38, 0.1, 0.15, 0.05, 0.15, 0.02, 0.12, 0.05, 0.0,
            0.0, 0.5, 1.0, 0.5, 0.2, 0.2, 0.18, 0.2, 0.22, 0.0,
            0.0, 0.4, 0.15, 0.35, 0.1, 0.33, 0.12, 0.35, 0.2, 0.3, 0.1, 0.0,
            0.0, 0.4, 0.6, 0.2, 0.0,
            0.0, 0.25, 0.1, 0.3, 0.05, 0.28, 0.15, 0.3, 0.5, 0.2, 0.42, 0.15, 0.3, 0.1,
            0.25, 0.05, 0.2, 0.02, 0.15, 0.0, 0.05, 0.0, 0.1, 0.0, 0.5, 1.0, 0.5, 0.2,
            0.5, 0.1, 0.45, 0.05, 0.5, 0.25, 0.05, 0.0,
            0.0, 0.2, 0.3, 0.3, 0.32, 0.36, 0.38, 0.35, 0.3, 0.3, 0.3, 0.1, 0.0,
            0.0, 0.35, 0.47, 0.1, 0.2, 0.05, 0.3, 0.5, 0.62, 0.3, 0.2, 0.05, 0.0,
            0.0, 0.15, 0.23, 0.05, 0.0,
            0.0, 0.48, 0.3, 0.45, 0.25, 0.45, 0.3, 0.5, 0.35, 0.5, 0.55, 0.3, 0.45, 0.2,
            0.3, 0.1, 0.05, 0.0,
            0.0, 0.35, 0.45, 0.35, 0.4, 0.33, 0.35, 0.3, 0.3, 0.1, 0.0,
            0.0, 0.3, 0.35, 0.3, 0.1, 0.0,
            0.0, 0.95, 1.0, 0.6, 0.3, 0.15, 0.3, 0.1, 0.25, 0.1, 0.3, 0.1, 0.2, 0.05,
            0.02, 0.03, 0.0,
            0.0, 0.2, 0.3, 0.6, 1.0, 0.5, 0.3, 0.25, 0.2, 0.25, 0.15, 0.2, 0.1, 0.15,
            0.05, 0.1, 0.0, 0.15, 0.2, 0.05, 0.18, 0.05, 0.0,
            0.0, 0.5, 1.0, 0.6, 0.3, 0.15, 0.25, 0.1, 0.2, 0.12, 0.3, 0.15, 0.3, 0.2,
            0.3, 0.1, 0.25, 0.1, 0.2, 0.12, 0.15, 0.05, 0.0,
            0.0, 0.2, 0.35, 0.15, 0.3, 0.1, 0.3, 0.15, 0.35, 0.1, 0.35, 0.12, 0.3, 0.1,
            0.35, 0.1, 0.05, 0.0,
            0.0, 0.03, 0.05, 0.02, 0.0,
            0.0, 0.6, 0.83, 0.5, 0.7, 0.55, 0.72, 0.5, 0.7, 0.45, 0.5, 0.3, 0.35, 0.1,
            0.3, 0.05, 0.38, 0.1, 0.05, 0.0,
            0.0, 0.4, 0.77, 0.3, 0.1, 0.3, 0.05, 0.0,
            0.0, 0.4, 0.6, 0.2, 0.1, 0.1, 0.02, 0.0,
            0.0, 0.65, 0.3, 0.6, 0.4, 1.0, 0.5, 0.45, 0.3, 0.4, 0.25, 0.3, 0.2,
            0.28, 0.1, 0.0,
            0.0, 0.4, 0.67, 0.2, 0.35, 0.1, 0.35, 0.15, 0.4, 0.1, 0.3, 0.05, 0.25,
            0.1, 0.3, 0.45, 0.2, 0.05, 0.0,
            0.0, 0.6, 1.0, 0.6, 0.5, 0.3, 0.2, 0.3, 0.15, 0.3, 0.1, 0.25, 0.15,
            0.3, 0.2, 0.35, 0.15, 0.25, 0.1, 0.2, 0.05, 0.15, 0.02, 0.0,
            0.0, 0.3, 0.45, 0.1, 0.05, 0.0,
            0.0, 0.5, 0.95, 0.4, 0.2, 0.35, 0.1, 0.3, 0.15, 0.4, 0.3, 0.6, 0.85,
            1.0, 0.6, 0.4, 0.35, 0.3, 0.35, 0.28, 0.33, 0.25, 0.32, 0.2, 0.3, 0.18, 0.3,
            0.15, 0.3, 0.2, 0.35, 0.3, 0.5, 0.3, 0.2, 0.25, 0.1, 0.2, 0.05, 0.15,
            0.02, 0.05, 0.0,
            0.0, 0.6, 1.0, 0.5, 0.3, 0.15, 0.3, 0.1, 0.3, 0.05, 0.28, 0.1, 0.3,
            0.05, 0.32, 0.1, 0.3, 0.1, 0.03, 0.0,
            0.0, 0.4, 0.65, 0.3, 0.2, 0.2, 0.15, 0.1, 0.05, 0.0,
            0.0, 0.6, 1.0, 0.4, 0.3, 0.1, 0.35, 0.05, 0.3, 0.1, 0.35, 0.2, 0.3,
            0.47, 0.2, 0.1, 0.25, 0.05, 0.3, 0.38, 0.1, 0.2, 0.05, 0.2, 0.1, 0.25,
            0.05, 0.15, 0.3, 0.1, 0.3, 0.45, 0.2, 0.1, 0.3, 0.05, 0.25, 0.1, 0.3,
            0.38, 0.1, 0.15, 0.02, 0.0,
            0.0, 0.2, 0.5, 0.82, 0.3, 0.2, 0.35, 0.1, 0.3, 0.2, 0.3, 0.5, 0.83,
            0.4, 0.3, 0.1, 0.3, 0.05, 0.2, 0.02, 0.15, 0.05, 0.15, 0.1, 0.2, 0.15, 0.27,
            0.1, 0.3, 0.2, 0.35, 0.2, 0.4, 0.3, 0.35, 0.15, 0.2, 0.1, 0.1, 0.0,
            0.0, 0.3, 0.48, 0.1, 0.3, 0.05, 0.25, 0.1, 0.3, 0.05, 0.3, 0.35, 0.1, 0.3,
            0.05, 0.25, 0.1, 0.3, 0.15, 0.32, 0.1, 0.3, 0.05, 0.2, 0.1, 0.2, 0.4, 0.6,
            0.8, 0.4, 0.3, 0.1, 0.25, 0.05, 0.2, 0.1, 0.2, 0.05, 0.2, 0.1, 0.3,
            0.47, 0.2, 0.05, 0.15, 0.02, 0.12, 0.05, 0.1, 0.08, 0.02, 0.1, 0.03, 0.05, 0.0,
            0.0, 0.6, 1.0, 0.8, 0.6, 0.4, 0.2, 0.1, 0.15, 0.05, 0.2, 0.1, 0.27,
            0.1, 0.2, 0.05, 0.08, 0.0, 0.0]

series = [(time_a, holdup_a), (time_b, holdup_b), (time_c, holdup_c), (time_d, holdup_d)]
for _t, _v in series:
    assert len(_t) == len(_v), (len(_t), len(_v))

x_tick_vals = [0, 1, 2, 3, 4, 5]
y_tick_vals = [0, 0.25, 0.5, 0.75, 1]
y_tick_text = ["0", "0.25", "0.5", "0.75", "1"]
gas_velocity = ["1", "1", "2", "2"]
liquid_velocity = ["1", "2", "1", "2"]
slug_frequency = ["3", "9", "1", "4"]

title_text = "Recorded liquid holdup at outlet of run arm"
y_title = "Liquid Holdup"
x_title = "Time [s]"

# ---------------- layout geometry (pixels) ----------------
panels = [
    dict(x0=125, x1=955, top=86, bot=239, tick_gap=16, time_x=539, time_y=272, yshift=-4,
         ylab_y=164, vg_y=158, vl_y=197, fh_y=179),
    dict(x0=120, x1=949, top=313.5, bot=466.5, tick_gap=17, time_x=545, time_y=506, yshift=-3,
         ylab_y=396, vg_y=395, vl_y=434, fh_y=414),
    dict(x0=119, x1=954, top=542, bot=694, tick_gap=20, time_x=547, time_y=731, yshift=-1,
         ylab_y=631, vg_y=616, vl_y=654, fh_y=636),
    dict(x0=125, x1=962, top=768, bot=921, tick_gap=23, time_x=546, time_y=960, yshift=0,
         ylab_y=855, vg_y=825, vl_y=863, fh_y=842),
]

SANS = "Open Sans, Noto Sans, sans-serif"
SERIF = "Liberation Serif, DejaVu Serif, serif"
GRID = "#d9d9d9"
INK = "#111111"


def px(x):
    return x / W


def py(y):
    return 1 - y / H


PAD = 2.5  # pixels of head-room so the zero/one line is not clipped

fig = go.Figure()
annotations = []

for i, (p, (t, v)) in enumerate(zip(panels, series), start=1):
    sfx = "" if i == 1 else str(i)
    span = p["bot"] - p["top"]
    pad_v = PAD / span
    fig.add_trace(go.Scatter(
        x=t, y=v, mode="lines",
        line=dict(color="#000000", width=3.0),
        xaxis="x" + sfx, yaxis="y" + sfx, showlegend=False, hoverinfo="skip",
    ))
    fig.layout["xaxis" + sfx] = dict(
        domain=[px(p["x0"]), px(p["x1"])], anchor="y" + sfx,
        range=[0, 5], tickvals=x_tick_vals, ticks="",
        showgrid=True, gridcolor=GRID, gridwidth=1, zeroline=False, showline=False,
        tickfont=dict(family=SANS, size=19, color=INK),
        ticklabelstandoff=p["tick_gap"], fixedrange=True,
    )
    fig.layout["yaxis" + sfx] = dict(
        domain=[py(p["bot"] + PAD), py(p["top"] - PAD)], anchor="x" + sfx,
        range=[-pad_v, 1 + pad_v], tickvals=y_tick_vals, ticktext=y_tick_text, ticks="",
        showgrid=True, gridcolor=GRID, gridwidth=1, zeroline=False,
        showline=True, mirror=True, linecolor=GRID, linewidth=1,
        tickfont=dict(family=SANS, size=19, color=INK),
        ticklabelstandoff=p["x0"] - 103, ticklabelshift=p["yshift"], fixedrange=True,
    )
    annotations.append(dict(text=x_title, x=px(p["time_x"]), y=py(p["time_y"]), xref="paper", yref="paper",
                            showarrow=False, xanchor="center", yanchor="middle",
                            font=dict(family=SANS, size=20, color=INK)))
    annotations.append(dict(text=y_title, x=px(24), y=py(p["ylab_y"]), xref="paper", yref="paper",
                            showarrow=False, xanchor="center", yanchor="middle", textangle=-90,
                            font=dict(family=SANS, size=24, color=INK)))
    annotations.append(dict(text="V<sub>g</sub> = " + gas_velocity[i - 1], x=px(1108), y=py(p["vg_y"]),
                            xref="paper", yref="paper", showarrow=False, xanchor="center", yanchor="middle",
                            font=dict(family=SERIF, size=23, color=INK)))
    annotations.append(dict(text="V<sub>1</sub> = " + liquid_velocity[i - 1], x=px(1108), y=py(p["vl_y"]),
                            xref="paper", yref="paper", showarrow=False, xanchor="center", yanchor="middle",
                            font=dict(family=SERIF, size=23, color=INK)))
    annotations.append(dict(text=slug_frequency[i - 1], x=px(1264), y=py(p["fh_y"]),
                            xref="paper", yref="paper", showarrow=False, xanchor="center", yanchor="middle",
                            font=dict(family=SERIF, size=22, color=INK)))

annotations.append(dict(text="<b>" + title_text + "</b>", x=px(563), y=py(31), xref="paper", yref="paper",
                        showarrow=False, xanchor="center", yanchor="middle",
                        font=dict(family=SANS, size=23, color=INK)))
annotations.append(dict(text="Velocity", x=px(1107), y=py(11), xref="paper", yref="paper",
                        showarrow=False, xanchor="center", yanchor="middle",
                        font=dict(family=SANS, size=21, color=INK)))
annotations.append(dict(text="(m/s)", x=px(1107), y=py(39), xref="paper", yref="paper",
                        showarrow=False, xanchor="center", yanchor="middle",
                        font=dict(family=SANS, size=21, color=INK)))
annotations.append(dict(text="<i>f<sub>h</sub></i>", x=px(1268), y=py(35), xref="paper", yref="paper",
                        showarrow=False, xanchor="center", yanchor="middle",
                        font=dict(family=SERIF, size=28, color=INK)))

fig.update_layout(
    width=W, height=H, margin=dict(l=0, r=0, t=0, b=0),
    paper_bgcolor="white", plot_bgcolor="white",
    annotations=annotations, showlegend=False,
)

fig.write_html("out.html", config={"displayModeBar": False})
